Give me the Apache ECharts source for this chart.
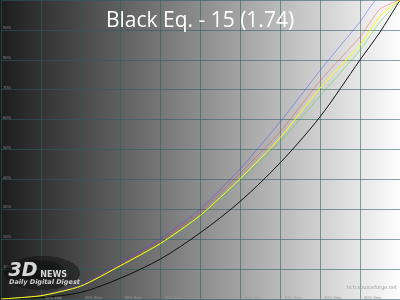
<!DOCTYPE html>
<html>
<head>
<meta charset="utf-8">
<script src="https://cdn.jsdelivr.net/npm/echarts@6/dist/echarts.min.js"></script>
<style>
html,body{margin:0;padding:0;background:#fff;}
#chart{width:400px;height:300px;}
</style>
</head>
<body>
<div id="chart"></div>
<script>
// Stimulus levels (%)
const stim   = [0, 10, 20, 30, 40, 50, 60, 70, 80, 90, 95, 100];
// Luminance (%) per curve
const blackRef = [0, 0.5, 2.2, 7.0, 13.4, 22.2, 32.7, 45.6, 61.0, 80.0, 89.3, 100];
const yellow   = [0, 1.1, 4.3, 11.2, 18.6, 28.0, 40.3, 54.0, 70.6, 85.0, 94.7, 100];
const green    = [0, 1.0, 4.2, 11.0, 18.3, 27.7, 39.5, 52.7, 68.0, 83.3, 92.7, 100];
const red      = [0, 1.1, 4.5, 11.6, 19.5, 29.4, 42.2, 56.0, 73.0, 87.7, 97.0, 100];
const blue     = [0, 1.2, 4.8, 12.0, 20.2, 30.2, 43.6, 59.3, 76.5, 92.7, 101.0, 100];
const yTicks = ['10%','20%','30%','40%','50%','60%','70%','80%','90%'];
const xTicks = ['10% Stim','20% Stim','30% Stim','40% Stim','50% Stim','60% Stim','70% Stim','80% Stim','90% Stim'];
const titleText = 'Black Eq. - 15 (1.74)';

function pts(arr){ return stim.map((s,i)=>[s,arr[i]]); }

const chart = echarts.init(document.getElementById('chart'), null, {renderer:'canvas'});
const gridColor = 'rgba(40,95,92,0.55)';
const mkLine = (name, data, color, z, smooth) => ({
  name, type:'line', data: pts(data), showSymbol:false, symbol:'none',
  smooth: smooth,
  lineStyle:{color, width:1}, z, silent:true, clip:true
});

chart.setOption({
  animation:false,
  backgroundColor:{type:'linear', x:0, y:0, x2:1, y2:0,
    colorStops:[{offset:0,color:'#1c1c1c'},{offset:1,color:'#fdfdfd'}]},
  title:{text:titleText, left:'center', top:6,
    textStyle:{color:'#ffffff', fontFamily:'Open Sans', fontWeight:'normal', fontSize:21}},
  grid:{left:0, right:0, top:0, bottom:0, containLabel:false},
  xAxis:{type:'value', min:0, max:100, interval:10,
    axisLine:{show:false}, axisTick:{show:false},
    splitLine:{show:true, lineStyle:{color:gridColor, width:1}},
    axisLabel:{inside:true, show:true, fontSize:4, color:'#9a9a9a', align:'left', padding:[0,0,0,4],
      margin:-1, verticalAlign:'bottom', showMinLabel:false, showMaxLabel:false,
      formatter:(v)=>{const i=Math.round(v/10)-1; return (i>=0&&i<xTicks.length)?xTicks[i]:'';}}},
  yAxis:{type:'value', min:0, max:100, interval:10,
    axisLine:{show:false}, axisTick:{show:false},
    splitLine:{show:true, lineStyle:{color:gridColor, width:1}},
    axisLabel:{inside:true, show:true, fontSize:4, color:'#8a8a8a', verticalAlign:'bottom', margin:2,
      showMinLabel:false, showMaxLabel:false,
      formatter:(v)=>{const i=Math.round(v/10)-1; return (i>=0&&i<yTicks.length)?yTicks[i]:'';}}},
  series:[
    mkLine('Blue', blue, 'rgba(70,70,255,0.45)', 3, 0.2),
    mkLine('Red', red, 'rgba(255,50,50,0.4)', 4, 0.2),
    mkLine('Green', green, 'rgba(40,210,40,0.4)', 5, 0.2),
    mkLine('Reference', blackRef, '#111111', 6, 0.3),
    mkLine('Yellow', yellow, '#ffff10', 7, 0.2)
  ],
  graphic:[
    {type:'ellipse', shape:{cx:42, cy:273, rx:38, ry:17}, style:{fill:'rgba(10,10,10,0.45)'}, z:50, silent:true},
    {type:'ellipse', shape:{cx:38, cy:270, rx:26, ry:10}, style:{fill:'rgba(0,0,0,0.3)'}, z:50, silent:true},
    {type:'text', left:8, top:261, z:60, silent:true,
      style:{text:'3D', fill:'rgba(235,235,235,0.9)', stroke:'#222', lineWidth:1,
        font:'italic bold 19px "DejaVu Sans"'}},
    {type:'text', left:40, top:271, z:60, silent:true,
      style:{text:'NEWS', fill:'rgba(235,235,235,0.9)', stroke:'#222', lineWidth:0.5,
        font:'bold 8px "DejaVu Sans"'}},
    {type:'text', left:9, top:279, z:60, silent:true,
      style:{text:'Daily Digital Digest', fill:'rgba(225,225,225,0.9)',
        font:'italic bold 6.5px "DejaVu Sans"'}},
    {type:'text', right:3, top:285, z:60, silent:true,
      style:{text:'hcfr.sourceforge.net', fill:'#9a9a9a', font:'5px "DejaVu Sans"'}}
  ]
});
</script>
</body>
</html>
